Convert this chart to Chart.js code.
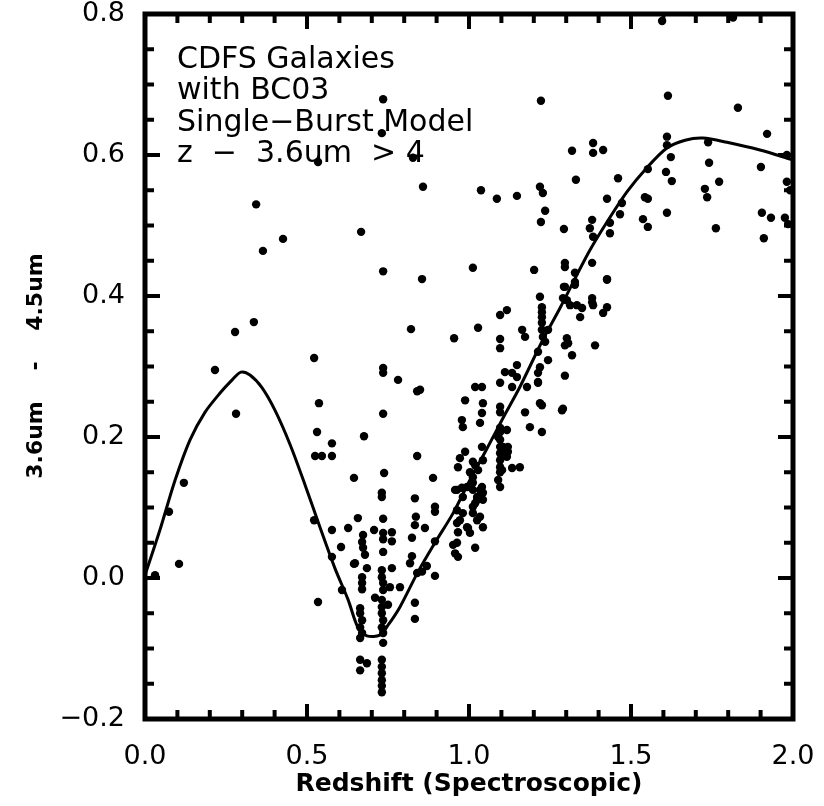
<!DOCTYPE html>
<html>
<head>
<meta charset="utf-8">
<script src="https://cdn.jsdelivr.net/npm/chart.js@4.4.1/dist/chart.umd.min.js"></script>
<style>
  body { margin: 0; background: #fff; }
  #wrap { width: 824px; height: 806px; }
</style>
</head>
<body>
<div id="wrap"><canvas id="chart" width="824" height="806"></canvas></div>
<script>
// galaxies: spectroscopic redshift and 3.6um - 4.5um colour
const galZ = [
  // z < 0.5
  0.031, 0.074, 0.105, 0.120, 0.216, 0.278, 0.281, 0.336, 0.343, 0.364, 0.426,
  // isolated points high up
  0.735, 0.731, 0.534, 0.827, 1.222, 0.667, 0.735, 0.855, 0.858, 1.037, 1.086, 1.148,
  1.219, 1.228, 1.235, 1.222, 1.293, 1.012, 1.201, 1.596, 1.815,
  // z 0.5 - 0.9
  0.522, 0.537, 0.531, 0.577, 0.525, 0.546, 0.577, 0.676, 0.735, 0.735, 0.735, 0.781,
  0.821, 0.840, 0.840, 0.645, 0.738, 0.889, 0.731, 0.731, 0.833, 0.895, 0.895, 0.522,
  0.657, 0.735, 0.836, 0.833, 0.864, 0.627, 0.577, 0.673, 0.707, 0.735, 0.735, 0.762,
  0.762, 0.824, 0.895, 0.605, 0.670, 0.673, 0.679, 0.735, 0.577, 0.648, 0.685, 0.762,
  0.824, 0.818, 0.870, 0.731, 0.731, 0.735, 0.735, 0.670, 0.670, 0.670, 0.645, 0.840,
  0.855, 0.895, 0.756, 0.787, 0.608, 0.534, 0.710, 0.731, 0.750, 0.833, 0.833, 0.664,
  0.664, 0.670, 0.664, 0.670, 0.664, 0.731, 0.731, 0.735, 0.731, 0.735, 0.735, 0.664,
  0.685, 0.664, 0.731, 0.731, 0.731, 0.731, 0.731, 0.731,
  // z 0.95 - 1.25 dense band
  0.963, 0.994, 1.012, 1.034, 0.981, 1.025, 1.043, 0.963, 0.981, 1.012, 0.972, 0.994,
  1.034, 1.043, 0.963, 0.957, 0.966, 1.019, 1.019, 1.040, 1.096, 1.133, 1.213, 1.219,
  0.988, 1.043, 1.040, 1.034, 1.096, 1.096, 1.173, 1.287, 0.978, 0.981, 1.096, 1.117,
  1.188, 1.225, 1.040, 0.988, 1.096, 1.096, 1.111, 1.117, 0.972, 0.966, 1.012, 1.043,
  1.003, 1.012, 1.009, 1.096, 1.096, 1.090, 1.133, 1.157, 1.096, 0.957, 0.978, 1.040,
  1.043, 1.012, 1.025, 1.019, 1.012, 1.025, 0.963, 0.966, 0.997, 1.003, 0.951, 1.120,
  1.105, 1.111, 1.120, 1.096, 1.102, 1.028, 1.019, 1.225, 1.090, 1.096, 1.096,
  // z 1.1 - 1.45
  1.327, 1.296, 1.426, 1.219, 1.302, 1.333, 1.380, 1.383, 1.349, 1.343, 1.426, 1.414,
  1.117, 1.096, 1.225, 1.225, 1.225, 1.028, 1.164, 1.173, 1.225, 1.228, 1.235, 1.244,
  0.954, 1.096, 1.096, 1.302, 1.306, 1.296, 1.389, 1.318, 1.213, 1.244, 1.219, 1.148,
  1.111, 1.133, 1.148, 1.213, 1.213, 1.296, 1.179, 0.849, 1.290, 1.225, 1.312,
  // z > 1.3
  1.318, 1.383, 1.383, 1.414, 1.330, 1.460, 1.611, 1.611, 1.738, 1.623, 1.741, 1.608,
  1.626, 1.772, 1.728, 1.735, 1.426, 1.543, 1.552, 1.472, 1.466, 1.611, 1.537, 1.552,
  1.762, 1.380, 1.373, 1.435, 1.435, 1.383, 1.296, 1.296, 1.380, 1.327, 1.426, 1.293,
  1.327, 1.614, 1.830, 1.920, 1.901, 1.981, 1.981, 1.991, 1.552, 1.904, 1.932, 1.975,
  1.985, 1.910, 1.380, 1.290
];
const galColor = [
  0.004, 0.094, 0.020, 0.135, 0.295, 0.349, 0.233, 0.363, 0.530, 0.464, 0.481,
  0.679, 0.631, 0.590, 0.596, 0.677, 0.491, 0.435, 0.424, 0.555, 0.550, 0.538, 0.542,
  0.555, 0.546, 0.521, 0.505, 0.495, 0.440, 0.437, 0.790, 0.795,
  0.312, 0.248, 0.207, 0.191, 0.173, 0.173, 0.173, 0.201, 0.298, 0.291, 0.233, 0.281,
  0.353, 0.265, 0.173, 0.142, 0.149, 0.142, 0.121, 0.115, 0.113, 0.101, 0.094, 0.082,
  0.085, 0.084, 0.087, 0.075, 0.071, 0.071, 0.068, 0.061, 0.068, 0.064, 0.055, 0.065,
  0.052, 0.057, 0.052, 0.044, 0.051, 0.043, 0.033, 0.037, 0.030, 0.021, 0.014, 0.014,
  0.031, 0.021, 0.017, 0.011, 0.001, -0.007, -0.017, 0.001, -0.007, -0.016, 0.020, 0.007,
  0.009, 0.003, -0.013, -0.013, -0.017, -0.034, -0.028, -0.031, -0.038, -0.035, -0.058, -0.043,
  -0.050, -0.060, -0.070, -0.078, -0.085, -0.041, -0.050, -0.060, -0.070, -0.078, -0.092, -0.116,
  -0.121, -0.131, -0.116, -0.126, -0.135, -0.145, -0.153, -0.162,
  0.125, 0.129, 0.135, 0.125, 0.115, 0.111, 0.121, 0.096, 0.092, 0.101, 0.082, 0.072,
  0.087, 0.072, 0.050, 0.035, 0.030, 0.043, 0.271, 0.271, 0.277, 0.271, 0.277, 0.248,
  0.252, 0.248, 0.234, 0.220, 0.243, 0.235, 0.235, 0.238, 0.224, 0.214, 0.213, 0.210,
  0.214, 0.207, 0.186, 0.179, 0.196, 0.186, 0.182, 0.172, 0.170, 0.157, 0.165, 0.167,
  0.150, 0.143, 0.135, 0.157, 0.150, 0.139, 0.156, 0.157, 0.129, 0.125, 0.128, 0.129,
  0.111, 0.125, 0.115, 0.106, 0.092, 0.082, 0.078, 0.065, 0.071, 0.064, 0.047, 0.186,
  0.186, 0.174, 0.179, 0.167, 0.153, 0.153, 0.160, 0.245, 0.200, 0.177, 0.207,
  0.420, 0.413, 0.423, 0.399, 0.394, 0.387, 0.391, 0.387, 0.383, 0.370, 0.384, 0.376,
  0.380, 0.373, 0.377, 0.370, 0.362, 0.355, 0.352, 0.342, 0.352, 0.342, 0.335, 0.352,
  0.340, 0.339, 0.326, 0.340, 0.333, 0.330, 0.330, 0.316, 0.321, 0.309, 0.299, 0.302,
  0.292, 0.291, 0.285, 0.291, 0.278, 0.287, 0.271, 0.267, 0.240, 0.384, 0.387,
  0.606, 0.617, 0.603, 0.607, 0.565, 0.567, 0.626, 0.614, 0.618, 0.597, 0.589, 0.576,
  0.563, 0.562, 0.552, 0.540, 0.538, 0.540, 0.538, 0.532, 0.516, 0.518, 0.509, 0.498,
  0.496, 0.508, 0.496, 0.504, 0.489, 0.484, 0.447, 0.441, 0.447, 0.433, 0.424, 0.413,
  0.416, 0.684, 0.667, 0.630, 0.583, 0.600, 0.562, 0.550, 0.580, 0.518, 0.511, 0.511,
  0.502, 0.482, 0.397, 0.397
];

// BC03 single-burst model track
const modelZ = [
  0.000, 0.046, 0.093, 0.139, 0.185, 0.231, 0.269, 0.296, 0.324, 0.361, 0.401, 0.448,
  0.494, 0.540, 0.586, 0.627, 0.657, 0.685, 0.725, 0.750, 0.787, 0.843, 0.895, 0.951,
  1.003, 1.056, 1.105, 1.157, 1.228, 1.281, 1.333, 1.373, 1.426, 1.488, 1.549, 1.611,
  1.667, 1.722, 1.796, 1.898, 2.000
];
const modelColor = [
  0.004, 0.068, 0.139, 0.196, 0.235, 0.262, 0.281, 0.292, 0.288, 0.270, 0.238, 0.189,
  0.132, 0.072, 0.014, -0.031, -0.070, -0.082, -0.081, -0.067, -0.041, 0.009, 0.050, 0.092,
  0.139, 0.184, 0.227, 0.271, 0.338, 0.383, 0.430, 0.465, 0.505, 0.548, 0.582, 0.610,
  0.621, 0.624, 0.618, 0.607, 0.593
];

const xTickLabels = ["0.0", "0.5", "1.0", "1.5", "2.0"];
const yTickLabels = ["\u22120.2", "0.0", "0.2", "0.4", "0.6", "0.8"];
const noteLines = ["CDFS Galaxies", "with BC03", "Single\u2212Burst Model", "z  \u2212  3.6um  > 4"];
const yTitle = "3.6um    -    4.5um";

const galPoints = galZ.map((z, i) => ({ x: z, y: galColor[i] }));
const modelPoints = modelZ.map((z, i) => ({ x: z, y: modelColor[i] }));

// IDL style box: thick frame with inward ticks on all four sides
const boxPlugin = {
  id: "idlBox",
  afterDraw(chart) {
    const { ctx, chartArea: a, scales } = chart;
    const xs = scales.x, ys = scales.y;
    ctx.save();
    ctx.strokeStyle = "#000";
    ctx.lineWidth = 4;
    ctx.lineCap = "square";
    ctx.beginPath();
    for (let i = 0; i <= 20; i++) {
      const px = xs.getPixelForValue(i * 0.1);
      const len = i % 5 === 0 ? 13 : 7;
      ctx.moveTo(px, a.bottom); ctx.lineTo(px, a.bottom - len);
      ctx.moveTo(px, a.top); ctx.lineTo(px, a.top + len);
    }
    for (let i = 0; i <= 20; i++) {
      const py = ys.getPixelForValue(-0.2 + i * 0.05);
      const len = i % 4 === 0 ? 13 : 7;
      ctx.moveTo(a.left, py); ctx.lineTo(a.left + len, py);
      ctx.moveTo(a.right, py); ctx.lineTo(a.right - len, py);
    }
    ctx.stroke();
    ctx.lineWidth = 5;
    ctx.strokeRect(a.left, a.top, a.right - a.left, a.bottom - a.top);

    // note in the upper left
    ctx.fillStyle = "#000";
    ctx.font = "30px 'DejaVu Sans'";
    ctx.textBaseline = "alphabetic";
    noteLines.forEach((t, i) => {
      ctx.fillText(t, a.left + 32, a.top + 54 + i * 31.3);
    });

    // y axis title, rotated
    ctx.translate(36, 366);
    ctx.rotate(-Math.PI / 2);
    ctx.font = "bold 22px 'DejaVu Sans'";
    ctx.textAlign = "center";
    ctx.textBaseline = "middle";
    ctx.fillText(yTitle, 0, 0);
    ctx.restore();
  }
};

const ctx = document.getElementById("chart").getContext("2d");
new Chart(ctx, {
  type: "scatter",
  data: {
    datasets: [
      {
        label: "model",
        data: modelPoints,
        showLine: true,
        borderColor: "#000",
        borderWidth: 3,
        pointRadius: 0,
        tension: 0.3,
        fill: false
      },
      {
        label: "galaxies",
        data: galPoints,
        backgroundColor: "#000",
        borderWidth: 0,
        pointRadius: 4.2,
        pointHoverRadius: 4.2
      }
    ]
  },
  options: {
    responsive: false,
    animation: false,
    layout: { padding: { top: 14, right: 31, left: 0, bottom: 0 } },
    plugins: {
      legend: { display: false },
      tooltip: { enabled: false }
    },
    scales: {
      x: {
        type: "linear",
        min: 0,
        max: 2,
        afterFit(s) { s.height = 87; s.paddingLeft = 0; s.paddingRight = 0; },
        grid: { display: false },
        border: { display: false },
        ticks: {
          stepSize: 0.5,
          padding: 14,
          color: "#000",
          font: { family: "'DejaVu Sans'", size: 27 },
          callback: (v) => xTickLabels[Math.round(v / 0.5)]
        },
        title: {
          display: true,
          text: "Redshift (Spectroscopic)",
          color: "#000",
          font: { family: "'DejaVu Sans'", size: 25, weight: "bold" },
          padding: { top: 0, bottom: 7 }
        }
      },
      y: {
        type: "linear",
        min: -0.2,
        max: 0.8,
        afterFit(s) { s.width = 145; s.paddingTop = 0; s.paddingBottom = 0; },
        grid: { display: false },
        border: { display: false },
        ticks: {
          stepSize: 0.2,
          padding: 12,
          color: "#000",
          font: { family: "'DejaVu Sans'", size: 27 },
          callback: (v) => yTickLabels[Math.round((v + 0.2) / 0.2)]
        }
      }
    }
  },
  plugins: [boxPlugin]
});
</script>
</body>
</html>
